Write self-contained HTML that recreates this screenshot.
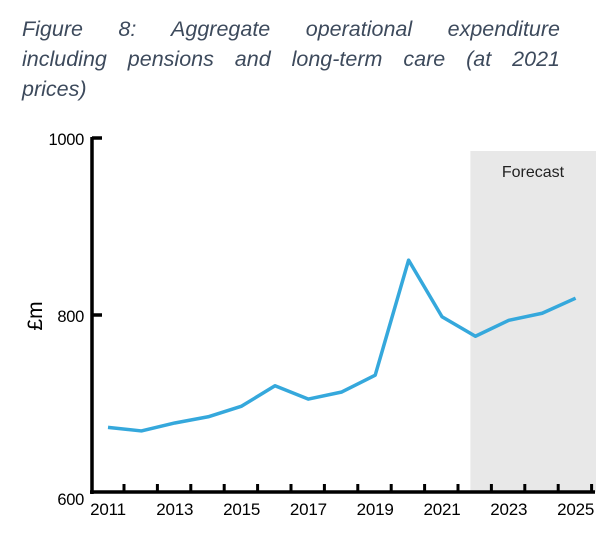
<!DOCTYPE html>
<html><head><meta charset="utf-8"><style>
body{margin:0;width:614px;height:546px;background:#fff;overflow:hidden;position:relative;font-family:"Liberation Sans",sans-serif}
.tl{position:absolute;left:22px;width:538px;font-style:italic;font-size:21.5px;line-height:30px;color:#3d4a5c;white-space:nowrap}
.j{text-align:justify;text-align-last:justify}
svg{position:absolute;left:0;top:0}
</style></head><body>
<div>
<div class="tl j" style="top:14px">Figure 8: Aggregate operational expenditure</div>
<div class="tl j" style="top:44px">including pensions and long-term care (at 2021</div>
<div class="tl" style="top:74px">prices)</div>
</div>
<svg width="614" height="546">
<rect id="fc" fill="#e8e8e8"></rect>
<text id="fct" font-size="16" fill="#222" text-anchor="middle">Forecast</text>
<g id="axes"></g>
<path id="line" fill="none" stroke="#35a8dc" stroke-width="3.5" stroke-linejoin="round"></path>
<text transform="translate(42,316) rotate(-90)" font-size="21" text-anchor="middle" fill="#000">£m</text>
</svg>
<script>
const years=[2011,2012,2013,2014,2015,2016,2017,2018,2019,2020,2021,2022,2023,2024,2025];
const values=[673,669,678,685,697,720,705,713,732,862,798,776,794,802,819];
const yTicks=[600,800,1000];
const xLabels=[2011,2013,2015,2017,2019,2021,2023,2025];
const forecastStart=2021.85;
const X=y=>108+(y-2011)*33.4;
const Y=v=>492-(v-600)*0.885;
const NS="http://www.w3.org/2000/svg";
const g=document.getElementById('axes');
function mk(t,a){const e=document.createElementNS(NS,t);for(const k in a)e.setAttribute(k,a[k]);return e;}
const fc=document.getElementById('fc');
fc.setAttribute('x',X(forecastStart));fc.setAttribute('y',151);fc.setAttribute('width',596-X(forecastStart));fc.setAttribute('height',492-151);
const fct=document.getElementById('fct');fct.setAttribute('x',533);fct.setAttribute('y',177);
let e=mk('line',{x1:92,y1:Y(1000)-1,x2:92,y2:494,stroke:'#000','stroke-width':3.5});


g.appendChild(e);
e=mk('line',{x1:90,y1:492,x2:595,y2:492,stroke:'#000','stroke-width':3.5});


g.appendChild(e);
yTicks.forEach(v=>{
 if(v>600){const t=mk('line',{x1:92,y1:Y(v),x2:102,y2:Y(v),stroke:'#000','stroke-width':3.5});
 
 
 g.appendChild(t);}
 const l=mk('text',{x:84,y:Y(v)+(v==600?13:7),'text-anchor':'end','font-size':16.5,fill:'#000','letter-spacing':'-0.3'});
 l.textContent=v;
 
 
 g.appendChild(l);
});
for(let i=0;i<15;i++){
 const x=124+i*33.4;
 const t=mk('line',{x1:x,y1:484,x2:x,y2:492,stroke:'#000','stroke-width':3});
 
 
 g.appendChild(t);
}
xLabels.forEach(yr=>{
 const l=mk('text',{x:X(yr),y:515,'text-anchor':'middle','font-size':17,fill:'#000','letter-spacing':'-0.2'});
 l.textContent=yr;
 
 
 g.appendChild(l);
});
document.getElementById('line').setAttribute('d',years.map((y,i)=>(i?'L':'M')+X(y)+','+Y(values[i])).join(' '));
</script>
</body></html>
